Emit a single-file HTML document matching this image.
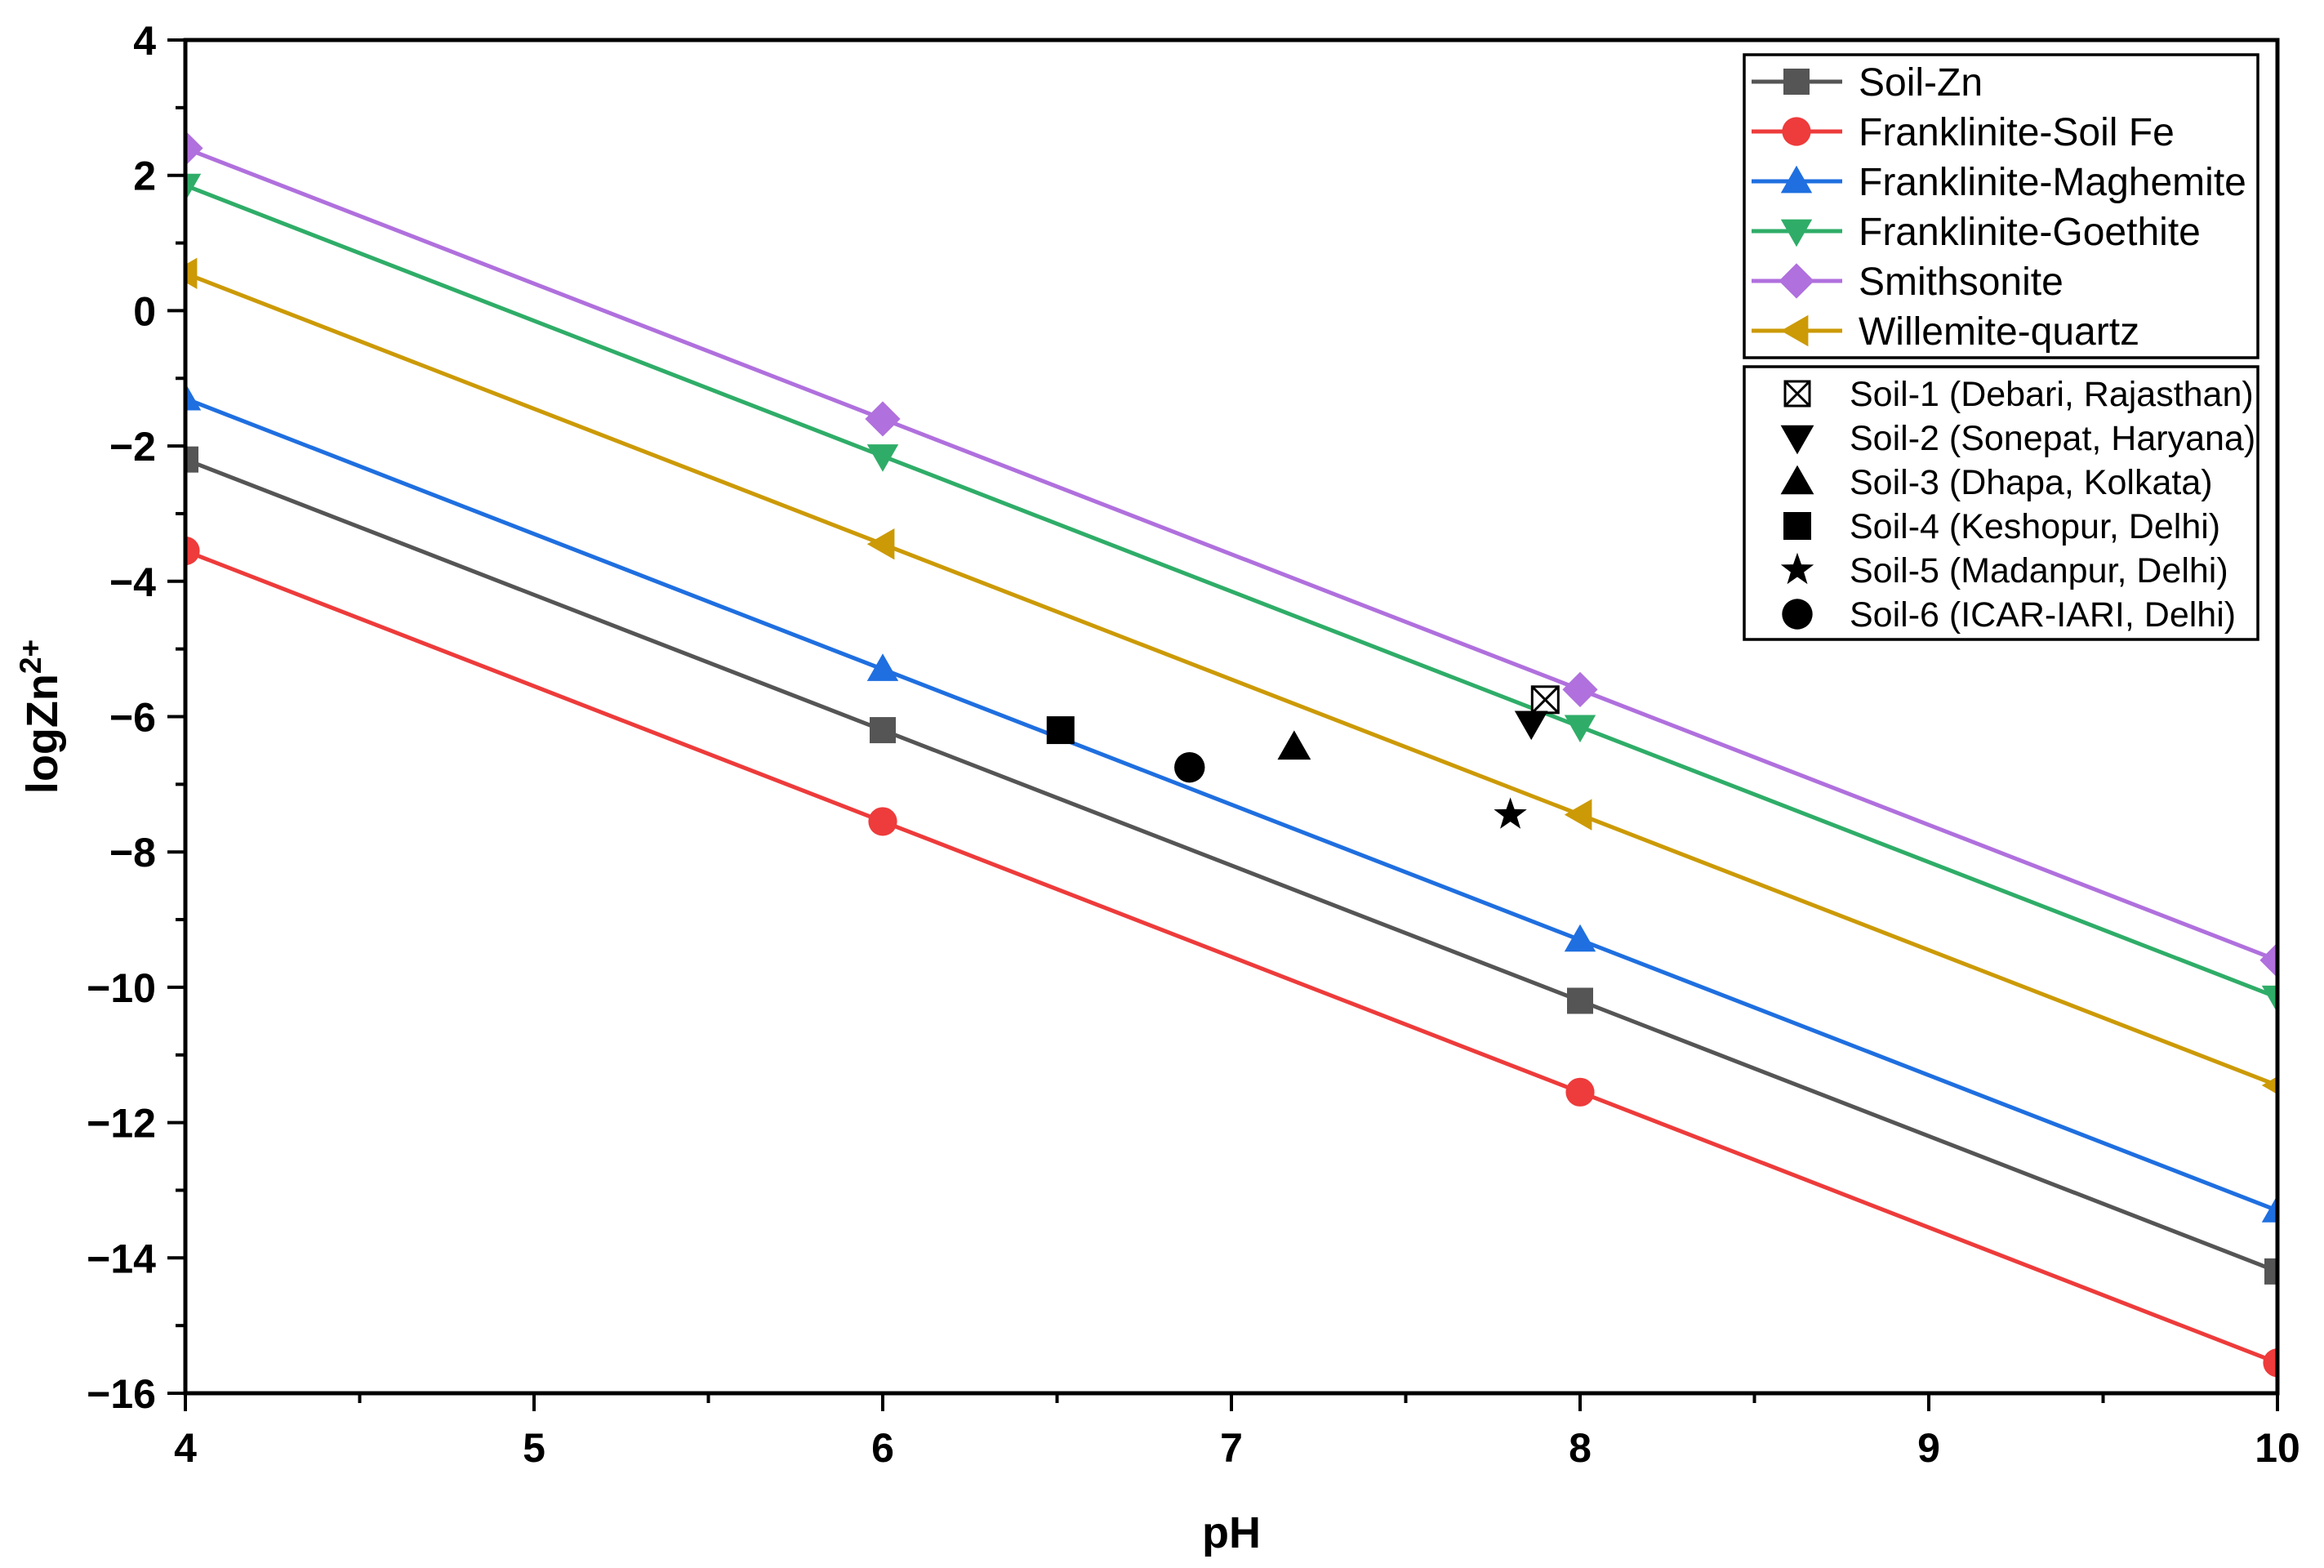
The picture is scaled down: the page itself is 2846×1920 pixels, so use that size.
<!DOCTYPE html>
<html><head><meta charset="utf-8"><style>
html,body{margin:0;padding:0;background:#fff}
svg{display:block}
text{font-family:"Liberation Sans",Arial,sans-serif}
</style></head><body>
<svg id="chart" width="2846" height="1920" viewBox="0 0 2846 1920" xmlns="http://www.w3.org/2000/svg">
<g id="marks"></g>
<g id="axes"></g>
<g id="legend"></g>
</svg>
<script>
const pHValues = [4, 6, 8, 10];
const seriesNames = ["Soil-Zn","Franklinite-Soil Fe","Franklinite-Maghemite","Franklinite-Goethite","Smithsonite","Willemite-quartz"];
const soilZn = [-2.2, -6.2, -10.2, -14.2];
const frankSoilFe = [-3.55, -7.55, -11.55, -15.55];
const frankMaghemite = [-1.3, -5.3, -9.3, -13.3];
const frankGoethite = [1.85, -2.15, -6.15, -10.15];
const smithsonite = [2.4, -1.6, -5.6, -9.6];
const willemite = [0.55, -3.45, -7.45, -11.45];
const soilNames = ["Soil-1 (Debari, Rajasthan)","Soil-2 (Sonepat, Haryana)","Soil-3 (Dhapa, Kolkata)","Soil-4 (Keshopur, Delhi)","Soil-5 (Madanpur, Delhi)","Soil-6 (ICAR-IARI, Delhi)"];
const soilPH = [7.9, 7.86, 7.18, 6.51, 7.8, 6.88];
const soilLogZn = [-5.75, -6.1, -6.45, -6.2, -7.45, -6.75];
const xTicks = [4,5,6,7,8,9,10];
const yTicks = [4,2,0,-2,-4,-6,-8,-10,-12,-14,-16];

const NS="http://www.w3.org/2000/svg";
const L=227,R=2789,T=49,B=1706;
const xMin=4,xMax=10,yMin=-16,yMax=4;
function sx(v){return L+(v-xMin)/(xMax-xMin)*(R-L);}
function sy(v){return B-(v-yMin)/(yMax-yMin)*(B-T);}
function el(tag,attrs,parent,txt){const e=document.createElementNS(NS,tag);for(const k in attrs)e.setAttribute(k,attrs[k]);if(txt!==undefined)e.textContent=txt;parent.appendChild(e);return e;}

function marker(shape,cx,cy,s,color,parent){
  let e;
  if(shape==="square") e=el("rect",{x:cx-s,y:cy-s,width:2*s,height:2*s,fill:color},parent);
  else if(shape==="circle") e=el("circle",{cx:cx,cy:cy,r:s*1.1,fill:color},parent);
  else if(shape==="up") e=el("polygon",{points:`${cx},${cy-s*1.2} ${cx+s*1.2},${cy+s*0.9} ${cx-s*1.2},${cy+s*0.9}`,fill:color},parent);
  else if(shape==="down") e=el("polygon",{points:`${cx},${cy+s*1.2} ${cx+s*1.2},${cy-s*0.9} ${cx-s*1.2},${cy-s*0.9}`,fill:color},parent);
  else if(shape==="diamond") e=el("polygon",{points:`${cx},${cy-s*1.35} ${cx+s*1.35},${cy} ${cx},${cy+s*1.35} ${cx-s*1.35},${cy}`,fill:color},parent);
  else if(shape==="left") e=el("polygon",{points:`${cx-s*1.2},${cy} ${cx+s*0.9},${cy-s*1.2} ${cx+s*0.9},${cy+s*1.2}`,fill:color},parent);
  else if(shape==="star"){let p=[];for(let i=0;i<10;i++){const r=i%2?s*0.5:s*1.25;const a=-Math.PI/2+i*Math.PI/5;p.push((cx+r*Math.cos(a)).toFixed(1)+","+(cy+r*Math.sin(a)).toFixed(1));}e=el("polygon",{points:p.join(" "),fill:color},parent);}
  else if(shape==="xbox"){e=el("g",{},parent);el("rect",{x:cx-s,y:cy-s,width:2*s,height:2*s,fill:"#fff",stroke:color,"stroke-width":3},e);el("path",{d:`M${cx-s},${cy-s}L${cx+s},${cy+s}M${cx+s},${cy-s}L${cx-s},${cy+s}`,stroke:color,"stroke-width":3},e);}
  return e;
}

const series=[
 {name:seriesNames[0],vals:soilZn,color:"#555555",shape:"square",id:"soil-zn"},
 {name:seriesNames[1],vals:frankSoilFe,color:"#ee3b3b",shape:"circle",id:"franklinite-soil-fe"},
 {name:seriesNames[2],vals:frankMaghemite,color:"#1f6fe0",shape:"up",id:"franklinite-maghemite"},
 {name:seriesNames[3],vals:frankGoethite,color:"#2fad68",shape:"down",id:"franklinite-goethite"},
 {name:seriesNames[4],vals:smithsonite,color:"#b070dd",shape:"diamond",id:"smithsonite"},
 {name:seriesNames[5],vals:willemite,color:"#cc9a06",shape:"left",id:"willemite-quartz"}
];
const marks=document.getElementById("marks");
const clip=el("clipPath",{id:"pc"},document.getElementById("chart"));
el("rect",{x:L,y:T,width:R-L,height:B-T},clip);
const mg=el("g",{"clip-path":"url(#pc)"},marks);
series.forEach(s=>{
  const g=el("g",{},mg);
  
  
  const pts=pHValues.map((x,i)=>sx(x)+","+sy(s.vals[i])).join(" ");
  const line=el("polyline",{points:pts,fill:"none",stroke:s.color,"stroke-width":5},g);
  
  
  pHValues.forEach((x,i)=>{
    const m=marker(s.shape,sx(x),sy(s.vals[i]),16,s.color,g);
    
    
  });
});
const soilShapes=["xbox","down","up","square","star","circle"];
soilPH.forEach((x,i)=>{
  const m=marker(soilShapes[i],sx(x),sy(soilLogZn[i]),soilShapes[i]==="xbox"?16:17,"#000",marks);
  
  
});

const ax=document.getElementById("axes");
const frame=el("rect",{x:L,y:T,width:R-L,height:B-T,fill:"none",stroke:"#000","stroke-width":5},ax);


xTicks.forEach(v=>{
  el("line",{x1:sx(v),y1:B,x2:sx(v),y2:B+22,stroke:"#000","stroke-width":4},ax);
  if(v<xMax) el("line",{x1:sx(v+0.5),y1:B,x2:sx(v+0.5),y2:B+12,stroke:"#000","stroke-width":4},ax);
  const t=el("text",{x:sx(v),y:B+84,"text-anchor":"middle","font-size":50,"font-weight":"bold"},ax,String(v));
  
  
});
yTicks.forEach(v=>{
  el("line",{x1:L-22,y1:sy(v),x2:L,y2:sy(v),stroke:"#000","stroke-width":4},ax);
  if(v>yMin) el("line",{x1:L-12,y1:sy(v-1),x2:L,y2:sy(v-1),stroke:"#000","stroke-width":4},ax);
  const t=el("text",{x:L-36,y:sy(v)+18,"text-anchor":"end","font-size":50,"font-weight":"bold"},ax,v<0?"\u2212"+Math.abs(v):String(v));
  
  
});
const xt=el("text",{x:(L+R)/2,y:1895,"text-anchor":"middle","font-size":54,"font-weight":"bold"},ax,"pH");


const yt=el("text",{transform:`translate(70,${(T+B)/2}) rotate(-90)`,"text-anchor":"middle","font-size":54,"font-weight":"bold"},ax);


yt.appendChild(document.createTextNode("logZn"));
el("tspan",{dy:-20,"font-size":37},yt,"2+");

const lg=document.getElementById("legend");
const lb1=el("rect",{x:2136,y:67,width:629,height:371,fill:"#fff",stroke:"#000","stroke-width":3.5},lg);


series.forEach((s,i)=>{
  const y=100+i*61;
  const g=el("g",{},lg);
  
  
  el("line",{x1:2145,y1:y,x2:2256,y2:y,stroke:s.color,"stroke-width":5},g);
  marker(s.shape,2200,y,16,s.color,g);
  el("text",{x:2276,y:y+17,"font-size":48},g,s.name);
});
const lb2=el("rect",{x:2136,y:449,width:629,height:334,fill:"#fff",stroke:"#000","stroke-width":3.5},lg);


soilNames.forEach((n,i)=>{
  const y=482+i*54;
  const g=el("g",{},lg);
  
  
  marker(soilShapes[i],2201,y,soilShapes[i]==="xbox"?15:17,"#000",g);
  el("text",{x:2265,y:y+15,"font-size":43},g,n);
});
</script>
</body></html>
